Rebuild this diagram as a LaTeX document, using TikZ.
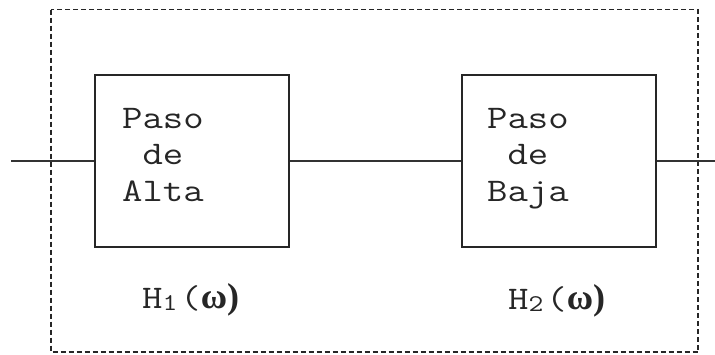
\documentclass[tikz,border=0pt]{standalone}
\usepackage{fontspec}
\setmainfont{Liberation Serif}
\newfontfamily\codefont{Latin Modern Mono}[FakeStretch=1.2]
\begin{document}
\begin{tikzpicture}[x=1pt,y=-1pt,
  blockbox/.style={draw=black!85,line width=2pt,minimum width=194pt,minimum height=172pt,inner sep=0pt},
  blocktext/.style={font=\codefont\fontsize{33}{36.5}\selectfont,align=left,anchor=base west,inner sep=0pt,text=black!85},
  tflabel/.style={font=\codefont\fontsize{33}{36}\selectfont,anchor=base west,inner sep=0pt,text=black!85},
  wire/.style={draw=black!80,line width=2pt},
  frame/.style={draw=black!85,line width=1.4pt,dash pattern=on 5pt off 3pt}]
\useasboundingbox (0,0) rectangle (715,354);
% dashed enclosure of the cascade
\draw[frame] (51,9.5) rectangle (698,352);
% filter blocks
\node[blockbox] (hp) at (192,161) {};
\node[blockbox] (lp) at (558.5,161) {};
\coordinate (in) at (11,161);
\coordinate (out) at (715,161);
\draw[wire] (in) -- (hp.west);
\draw[wire] (hp.east) -- (lp.west);
\draw[wire] (lp.east) -- (out);
% block captions (base anchor sits on the last line)
\node[blocktext] (hptext) at (122,201) {Paso\\\ de\\Alta};
\node[blocktext] (lptext) at (487,201) {Paso\\\ de\\Baja};
% transfer function labels
\node[tflabel] (h1) at (142,308) {H\raisebox{-2pt}{\fontsize{24}{24}\selectfont 1}\hspace{3pt}(\fontsize{36}{36}\rmfamily\bfseries ω)};
\node[tflabel] (h2) at (508,309) {H\raisebox{-2pt}{\fontsize{24}{24}\selectfont 2}\hspace{3pt}(\fontsize{36}{36}\rmfamily\bfseries ω)};
\end{tikzpicture}
\end{document}
